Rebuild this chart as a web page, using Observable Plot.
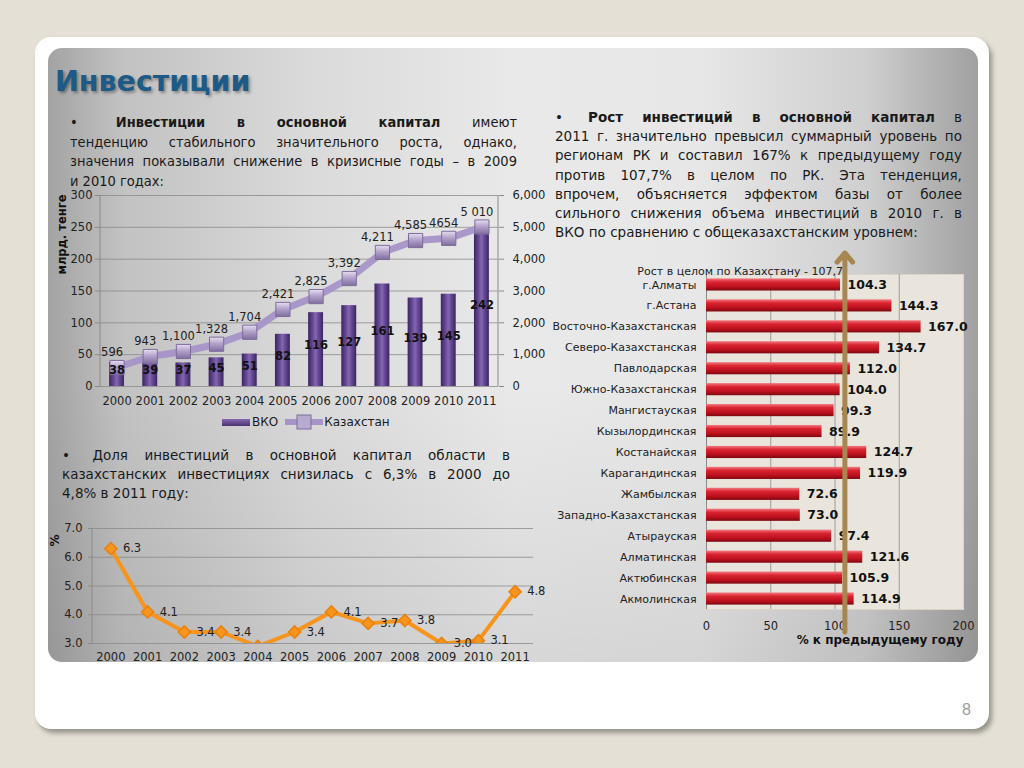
<!DOCTYPE html>
<html><head><meta charset="utf-8">
<script src="https://cdn.jsdelivr.net/npm/d3@7"></script>
<script src="https://cdn.jsdelivr.net/npm/@observablehq/plot@0.6"></script>
<style>
html,body{margin:0;padding:0;}
body{width:1024px;height:768px;background:#e4e0d6;position:relative;overflow:hidden;font-family:"DejaVu Sans",Verdana,sans-serif;color:#1a1a1a;}
#card{position:absolute;left:35px;top:37px;width:954px;height:692px;background:#fff;border-radius:16px;box-shadow:3px 4px 5px rgba(0,0,0,0.35);}
#panel{position:absolute;left:48px;top:48px;width:930px;height:614px;border-radius:14px;
 background: linear-gradient(to bottom, rgba(0,0,0,0) 55%, rgba(0,0,0,0.08) 100%),
   linear-gradient(to right,#a3a3a3 0%,#c2c2c2 8%,#dadada 28%,#e9e9e9 50%,#e7e7e7 70%,#cfcfcf 88%,#a0a0a0 100%);}
.abs{position:absolute;}
#title{left:55px;top:65px;font:bold 28.5px "DejaVu Sans";color:#1e5a87;line-height:34px;text-shadow:2px 2px 3px rgba(0,0,0,0.35);}
.block .ln{display:flex;justify-content:space-between;white-space:nowrap;}
.block .ln.last{display:block;white-space:pre;}
#t1{left:70px;top:113px;width:447px;font-family:"DejaVu Sans Condensed","DejaVu Sans",sans-serif;font-stretch:condensed;font-size:14.5px;line-height:19.7px;}
#t2{left:555px;top:108px;width:407px;font-size:13.5px;line-height:19.2px;}
#t3{left:62px;top:446px;width:448px;font-size:13.5px;line-height:19px;}
#pagenum{left:962px;top:701px;font:16px "Liberation Sans",sans-serif;color:#9d9d9d;}
#legend1{left:222px;top:414px;font-size:12px;display:flex;align-items:center;color:#1a1a1a;}
svg{overflow:visible;}
</style></head>
<body>
<div id="card"></div>
<div id="panel"></div>
<div id="title" class="abs">Инвестиции</div>
<div id="t1" class="abs block"></div>
<div id="t2" class="abs block"></div>
<div id="t3" class="abs block"></div>
<div id="chart1" class="abs" style="left:50px;top:185px;"></div>
<div id="legend1" class="abs">
  <span style="display:inline-block;width:28px;height:7px;background:linear-gradient(to bottom,#8769b3,#4a3273);margin-right:2px;"></span><span>ВКО</span>
  <svg width="40" height="16" style="margin-left:6px;"><line x1="1" x2="39" y1="8" y2="8" stroke="#a693c8" stroke-width="6"/><rect x="13" y="1" width="14" height="14" fill="#b9aacf" stroke="#7d6c9a"/></svg><span>Казахстан</span>
</div>
<div id="chart2" class="abs" style="left:50px;top:515px;"></div>
<div id="chart3" class="abs" style="left:540px;top:240px;"></div>
<div id="pagenum" class="abs">8</div>
<script>
// ---------- data ----------
const years = ["2000","2001","2002","2003","2004","2005","2006","2007","2008","2009","2010","2011"];
const vkoValues = [38,39,37,45,51,82,116,127,161,139,145,242];
const kazValues = [596,943,1100,1328,1704,2421,2825,3392,4211,4585,4654,5010];
const kazLabels = ["596","943","1,100","1,328","1,704","2,421","2,825","3,392","4,211","4,585","4654","5 010"];
const leftTicks = [0,50,100,150,200,250,300];
const rightTicks = [0,1000,2000,3000,4000,5000,6000];
const axisRatio = 20; // right axis 6000 matches left axis 300
const shareValues = [6.3,4.1,3.4,3.4,2.9,3.4,4.1,3.7,3.8,3.0,3.1,4.8];
const shareTicks = [3,4,5,6,7];
const regions = ["г.Алматы","г.Астана","Восточно-Казахстанская","Северо-Казахстанская","Павлодарская","Южно-Казахстанская","Мангистауская","Кызылординская","Костанайская","Карагандинская","Жамбылская","Западно-Казахстанская","Атырауская","Алматинская","Актюбинская","Акмолинская"];
const growthValues = [104.3,144.3,167.0,134.7,112.0,104.0,99.3,89.9,124.7,119.9,72.6,73.0,97.4,121.6,105.9,114.9];
const kazGrowth = 107.7;
const kazGrowthLabel = "Рост в целом по Казахстану - 107,7";
const growthTicks = [0,50,100,150,200];

// ---------- texts ----------
const text1 = [
  "• *Инвестиции* *в* *основной* *капитал* имеют",
  "тенденцию стабильного значительного роста, однако,",
  "значения показывали снижение в кризисные годы – в 2009",
  {last:"и 2010 годах:"}
];
const text2 = [
  "• *Рост* *инвестиций* *в* *основной* *капитал* в",
  "2011 г. значительно превысил суммарный уровень по",
  "регионам РК и составил 167% к предыдущему году",
  "против 107,7% в целом по РК. Эта тенденция,",
  "впрочем, объясняется эффектом базы от более",
  "сильного снижения объема инвестиций в 2010 г. в",
  {last:"ВКО по сравнению с общеказахстанским уровнем:"}
];
const text3 = [
  "• Доля инвестиций в основной капитал области в",
  "казахстанских инвестициях снизилась с 6,3% в 2000 до",
  {last:"4,8% в 2011 году:"}
];
function renderBlock(id, lines){
  const el = document.getElementById(id);
  for (const ln of lines){
    const d = document.createElement("div");
    if (typeof ln === "object"){ d.className = "ln last"; d.textContent = ln.last; }
    else {
      d.className = "ln";
      ln.split(" ").forEach(w => {
        const s = document.createElement("span");
        if (w.startsWith("*")) { s.style.fontWeight = "bold"; s.textContent = w.slice(1, -1); }
        else s.textContent = w;
        if (w === "•") s.style.width = "14px";
        d.appendChild(s);
      });
    }
    el.appendChild(d);
  }
}
renderBlock("t1", text1); renderBlock("t2", text2); renderBlock("t3", text3);

// ---------- helpers ----------
function addStops(g, stops){ stops.forEach(([o,c]) => g.append("stop").attr("offset", o).attr("stop-color", c)); }
const defsMark = () => {
  const s = d3.create("svg:defs");
  addStops(s.append("linearGradient").attr("id","gPurple").attr("x1",0).attr("x2",1).attr("y1",0).attr("y2",0),
    [[0,"#3a2660"],[0.3,"#654893"],[0.5,"#8467b0"],[0.7,"#654893"],[1,"#3a2660"]]);
  addStops(s.append("linearGradient").attr("id","gSquare").attr("x1",0).attr("x2",0).attr("y1",0).attr("y2",1),
    [[0,"#e6def0"],[0.45,"#b3a3cb"],[1,"#7f6e9e"]]);
  addStops(s.append("linearGradient").attr("id","gRed").attr("x1",0).attr("x2",0).attr("y1",0).attr("y2",1),
    [[0,"#f27b82"],[0.3,"#da2431"],[0.7,"#bb101d"],[1,"#7c0910"]]);
  return s.node();
};
const axisLines = (sides) => (index, scales, values, dims) => {
  const g = d3.create("svg:g");
  const {width, height, marginLeft, marginRight, marginTop, marginBottom} = dims;
  for (const side of sides){
    const x = side === "left" ? marginLeft : width - marginRight;
    g.append("line").attr("x1", x).attr("x2", x).attr("y1", marginTop).attr("y2", height - marginBottom)
      .attr("stroke", "#8a8a8a").attr("stroke-width", 1);
  }
  return g.node();
};
const baseStyle = {background:"transparent", fontFamily:"DejaVu Sans", fontSize:"11.5px", color:"#222", overflow:"visible"};

// ---------- chart 1 ----------
const table1 = years.map((year, i) => ({year, vko: vkoValues[i], kaz: kazValues[i], kazLabel: kazLabels[i]}));
const chart1 = Plot.plot({
  width: 500, height: 230, marginLeft: 50, marginRight: 52, marginTop: 10, marginBottom: 29,
  style: baseStyle,
  x: {type: "band", domain: years, paddingInner: 0.55, paddingOuter: 0.275, round: false, label: null},
  y: {domain: [0, 300], label: null},
  marks: [
    defsMark,
    Plot.gridY(leftTicks, {stroke: "#8a8a8a", strokeOpacity: 1, strokeWidth: 0.8}),
    axisLines(["left","right"]),
    Plot.axisY(leftTicks, {anchor: "left", tickSize: 5, tickPadding: 3, stroke: "#8a8a8a", label: null}),
    Plot.axisY(rightTicks.map(v => v / axisRatio), {anchor: "right", tickSize: 5, tickPadding: 9, stroke: "#8a8a8a",
      tickFormat: v => d3.format(",")(v * axisRatio), textAnchor: "start", label: null}),
    Plot.axisX({tickSize: 0, tickPadding: 10, label: null}),
    Plot.barY(table1, {x: "year", y: "vko", fill: "url(#gPurple)"}),
    Plot.line(table1, {x: "year", y: d => d.kaz / axisRatio, stroke: "#a693c8", strokeWidth: 7, strokeOpacity: 0.95}),
    Plot.dot(table1, {x: "year", y: d => d.kaz / axisRatio, symbol: "square", r: 8, fill: "url(#gSquare)", stroke: "#7d6c9a", strokeWidth: 1}),
    Plot.text(table1, {x: "year", y: d => d.vko / 2, text: d => String(d.vko), dy: -4, fontWeight: "bold", fontSize: 11.5, fill: "#111"}),
    Plot.text(table1, {x: "year", y: d => d.kaz / axisRatio, text: "kazLabel", dx: -5, dy: -15, fontSize: 11.5, fill: "#222"}),
    Plot.text(["млрд. тенге"], {frameAnchor: "top-left", text: d => d, rotate: -90, textAnchor: "middle", lineAnchor: "middle",
      dx: -38, dy: 39, fontWeight: "bold", fontSize: 11.5, fill: "#111"})
  ]
});
document.getElementById("chart1").appendChild(chart1);

// ---------- chart 2 ----------
const table2 = years.map((year, i) => ({year, share: shareValues[i]}));
const chart2 = Plot.plot({
  width: 490, height: 155, marginLeft: 42, marginRight: 7, marginTop: 13, marginBottom: 27,
  style: baseStyle,
  x: {type: "band", domain: years, padding: 0, round: false, label: null},
  y: {domain: [3, 7], label: null},
  marks: [
    Plot.gridY(shareTicks, {stroke: "#8a8a8a", strokeOpacity: 1, strokeWidth: 0.8}),
    axisLines(["left"]),
    Plot.axisY(shareTicks, {tickSize: 4, tickPadding: 6, tickFormat: d3.format(".1f"), stroke: "#8a8a8a", label: null}),
    Plot.axisX({tickSize: 0, tickPadding: 9, label: null}),
    Plot.line(table2, {x: "year", y: "share", stroke: "#f7941d", strokeWidth: 4, clip: true}),
    Plot.dot(table2, {x: "year", y: "share", symbol: "diamond2", r: 5.5, fill: "#f7941d", stroke: "#e8820e", clip: true}),
    Plot.text(table2.filter(d => d.share >= 3), {x: "year", y: "share", text: d => d.share.toFixed(1), dx: 12, textAnchor: "start", fontSize: 11.5, fill: "#222"}),
    Plot.text(["%"], {frameAnchor: "top-left", text: d => d, rotate: -90, textAnchor: "middle", lineAnchor: "middle",
      dx: -37, dy: 12, fontWeight: "bold", fontSize: 12, fill: "#111"})
  ]
});
document.getElementById("chart2").appendChild(chart2);

// ---------- chart 3 ----------
const table3 = regions.map((region, i) => ({region, value: growthValues[i]}));
const chart3 = Plot.plot({
  width: 440, height: 415, marginLeft: 166, marginRight: 17, marginTop: 34, marginBottom: 46,
  style: {...baseStyle, fontSize: "11px"},
  x: {domain: [0, 200], label: null},
  y: {type: "band", domain: regions, paddingInner: 0.42, paddingOuter: 0.21, round: false, label: null},
  marks: [
    defsMark,
    Plot.frame({fill: "#e9e5dc", stroke: "#d9d5cb"}),
    Plot.gridX(growthTicks.slice(1, -1), {stroke: "#8a8a8a", strokeOpacity: 1, strokeWidth: 0.8}),
    Plot.ruleX([0], {stroke: "#8a8a8a"}),
    Plot.axisX(growthTicks, {tickSize: 0, tickPadding: 12, fontSize: 11.5, label: null}),
    Plot.axisY({tickSize: 0, tickPadding: 10, fontSize: 11, label: null}),
    Plot.barX(table3, {y: "region", x: "value", fill: "url(#gRed)"}),
    Plot.text(table3, {y: "region", x: "value", text: d => d.value.toFixed(1), dx: 7, textAnchor: "start", fontWeight: "bold", fontSize: 12.5, fill: "#111"}),
    Plot.arrow([kazGrowth], {x1: d => d, x2: d => d, y1: () => regions[regions.length - 1], y2: () => regions[0],
      stroke: "#a5874f", strokeWidth: 5, headLength: 3.6, headAngle: 80, insetStart: -33, insetEnd: -32}),
    Plot.text([kazGrowth], {x: d => d, frameAnchor: "top", text: () => kazGrowthLabel, textAnchor: "end", dx: -2, dy: -7, fontSize: 11, fill: "#222"}),
    Plot.text(["% к предыдущему году"], {frameAnchor: "bottom-right", text: d => d, textAnchor: "end", dy: 34, fontWeight: "bold", fontSize: 12, fill: "#111"})
  ]
});
document.getElementById("chart3").appendChild(chart3);
</script>
</body></html>
